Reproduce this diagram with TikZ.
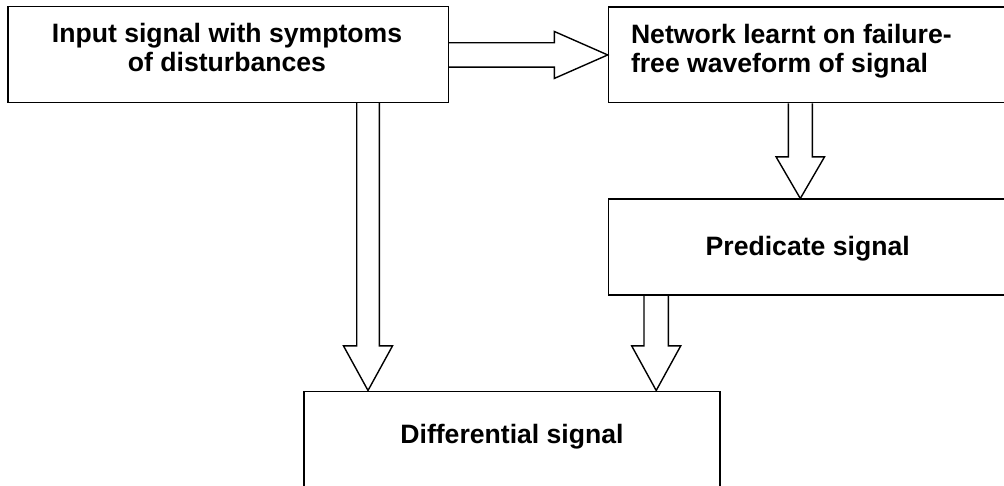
\documentclass[tikz,border=0pt]{standalone}
\usepackage{fontspec}
\setmainfont{Liberation Sans}
\usetikzlibrary{calc}
\newcommand\twoc[2]{\begin{tabular}[t]{@{}c@{}}#1\\#2\end{tabular}}
\newcommand\twol[2]{\begin{tabular}[t]{@{}l@{}}#1\\#2\end{tabular}}
% vertical block arrow: from node anchor, to node anchor, x-coordinate name, shaft half width, head half width, head length
\newcommand\varrow[6]{%
  \draw[barrow] let \p1=(#1 -| #3), \p2=(#2 -| #3) in
    (\x1-#4pt,\y1) -- (\x1-#4pt,\y2+#6pt) -- (\x1-#5pt,\y2+#6pt) -- (\p2)
    -- (\x1+#5pt,\y2+#6pt) -- (\x1+#4pt,\y2+#6pt) -- (\x1+#4pt,\y1);}
\begin{document}
\begin{tikzpicture}[x=1pt,y=1pt,
  box/.style={draw, line width=1.4pt, inner sep=0pt, anchor=north west},
  lbl/.style={font=\fontsize{26.6}{29.2}\selectfont\bfseries, inner sep=0pt},
  barrow/.style={draw, line width=1.4pt, line join=miter}]
\useasboundingbox (0,0) rectangle (1004,485);
\clip (0,0) rectangle (1004,485);
% boxes
\node[box, minimum width=440.4pt, minimum height=95.7pt] (in) at (7.3,479) {};
\node[box, minimum width=404.3pt, minimum height=95.5pt] (net) at (607.7,478.5) {};
\node[box, minimum width=404.3pt, minimum height=96pt] (pred) at (607.7,286.5) {};
\node[box, minimum width=416pt, minimum height=100pt] (dif) at (303.3,94.5) {};
% texts
\node[lbl, anchor=base] (intxt) at (227,442.7) {\twoc{Input signal with symptoms}{of disturbances}};
\node[lbl, anchor=base west] (nettxt) at (630.8,441.7) {\twol{Network learnt on failure-}{free waveform of signal}};
\node[lbl, anchor=base] (predtxt) at (807.7,229.5) {Predicate signal};
\node[lbl, anchor=base] (diftxt) at (512,41.7) {Differential signal};
% arrow x positions
\coordinate (c1) at (368,0);
\coordinate (c2) at (800.3,0);
\coordinate (c3) at (656.2,0);
% horizontal block arrow
\draw[barrow] let \p1=(in.east), \p2=(net.west) in
  (\x1,\y2+12.2pt) -- (\x2-53.4pt,\y2+12.2pt) -- (\x2-53.4pt,\y2+23.5pt) -- (\p2)
  -- (\x2-53.4pt,\y2-23.5pt) -- (\x2-53.4pt,\y2-12.2pt) -- (\x1,\y2-12.2pt);
% vertical block arrows
\varrow{in.south}{dif.north}{c1}{11.3}{24.5}{44.6}
\varrow{net.south}{pred.north}{c2}{12}{24.2}{41.6}
\varrow{pred.south}{dif.north}{c3}{12.2}{24.5}{44.6}
\end{tikzpicture}
\end{document}
